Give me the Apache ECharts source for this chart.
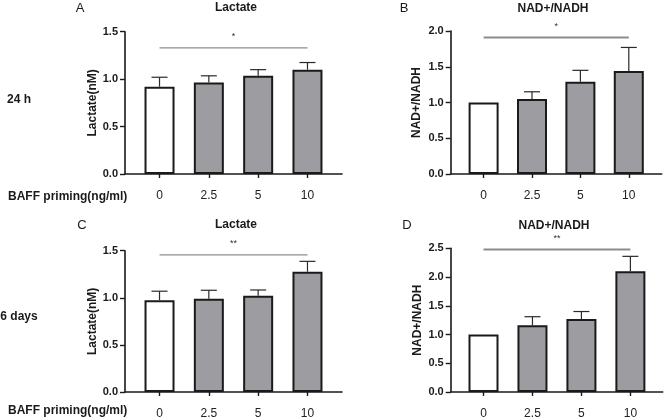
<!DOCTYPE html>
<html>
<head>
<meta charset="utf-8">
<script src="https://cdn.jsdelivr.net/npm/echarts@6/dist/echarts.min.js"></script>
<style>html,body{margin:0;padding:0;background:#fff;}#c{width:667px;height:420px;}</style>
</head>
<body>
<div id="c"></div>
<script>
// ---- data ----
const categories = ['0', '2.5', '5', '10'];
const xAxisTitle = 'BAFF priming(ng/ml)';
const rowLabels = ['24 h', '6 days'];
const panelLetters = ['A', 'B', 'C', 'D'];
const panelTitles = ['Lactate', 'NAD+/NADH', 'Lactate', 'NAD+/NADH'];
const yAxisTitles = ['Lactate(nM)', 'NAD+/NADH', 'Lactate(nM)', 'NAD+/NADH'];
const yMax = [1.5, 2.0, 1.5, 2.5];

const lactate24h = [0.92, 0.965, 1.035, 1.10];
const lactate24hErr = [0.10, 0.07, 0.065, 0.075];
const nad24h = [1.0, 1.05, 1.29, 1.44];
const nad24hErr = [0, 0.10, 0.16, 0.33];
const lactate6d = [0.975, 0.99, 1.023, 1.277];
const lactate6dErr = [0.095, 0.09, 0.06, 0.11];
const nad6d = [1.0, 1.16, 1.27, 2.10];
const nad6dErr = [0, 0.15, 0.13, 0.26];

// significance brackets: [fromIndex, toIndex, yValue]
const sigA = [0, 3, 1.33];
const sigB = [0, 3, 1.91];
const sigC = [0, 3, 1.455];
const sigD = [0, 3, 2.48];
const sigLabels = ['*', '*', '**', '**'];

const means = [lactate24h, nad24h, lactate6d, nad6d];
const errs = [lactate24hErr, nad24hErr, lactate6dErr, nad6dErr];
const sigs = [sigA, sigB, sigC, sigD];

// ---- layout ----
const grids = [
  {left: 125, top: 31.7, width: 217, height: 142.3},
  {left: 450.7, top: 31, width: 211, height: 143},
  {left: 125, top: 250.7, width: 217, height: 143.3},
  {left: 450.7, top: 248.3, width: 212, height: 145.2}
];
const xRange = [[-0.7, 3.7], [-0.68, 3.68], [-0.7, 3.7], [-0.67, 3.66]];
const nameGaps = [25, 28, 25, 27];
const FONT = '"Liberation Sans", Arial, sans-serif';
const NARROW = '"Liberation Sans Narrow", "Arial Narrow", "Liberation Sans", Arial, sans-serif';
const idx = categories.map((c, i) => i);

const xAxes = grids.map((g, k) => ({
  gridIndex: k, type: 'value', min: xRange[k][0], max: xRange[k][1],
  axisLine: {show: true, onZero: false, lineStyle: {color: '#1a1a1a', width: 1.6}},
  axisTick: {show: true, customValues: idx, length: 4, lineStyle: {color: '#1a1a1a', width: 1.4}},
  axisLabel: {show: true, customValues: idx, formatter: v => categories[Math.round(v)] ?? '',
    fontFamily: NARROW, fontSize: 12, color: '#222', margin: 16},
  splitLine: {show: false}
}));
const yAxes = grids.map((g, k) => ({
  gridIndex: k, type: 'value', min: 0, max: yMax[k], interval: 0.5,
  name: yAxisTitles[k], nameLocation: 'middle', nameGap: nameGaps[k], nameRotate: 90,
  nameTextStyle: {fontFamily: FONT, fontWeight: 'bold', fontSize: 12, color: '#1a1a1a'},
  axisLine: {show: true, onZero: false, lineStyle: {color: '#1a1a1a', width: 1.6}},
  axisTick: {show: true, length: 5, lineStyle: {color: '#1a1a1a', width: 1.4}},
  axisLabel: {formatter: v => v.toFixed(1), fontFamily: FONT, fontWeight: 'bold', fontSize: 11, color: '#1a1a1a', margin: 7},
  splitLine: {show: false}
}));

const series = [];
means.forEach((m, k) => {
  series.push({
    type: 'bar', xAxisIndex: k, yAxisIndex: k, barWidth: 30, z: 2,
    data: m.map((v, i) => [i, v]),
    itemStyle: {color: p => p.dataIndex === 0 ? '#ffffff' : '#9d9da1', borderColor: '#1a1a1a', borderWidth: 2},
    silent: true
  });
  series.push({
    type: 'custom', xAxisIndex: k, yAxisIndex: k, z: 1, clip: false,
    data: m.map((v, i) => [i, v, errs[k][i]]),
    renderItem: (params, api) => {
      const x = api.value(0), v = api.value(1), e = api.value(2);
      if (!e) return null;
      const p0 = api.coord([x, v]);
      const p1 = api.coord([x, v + e]);
      const st = {stroke: '#2a2a2a', lineWidth: 1.2};
      return {type: 'group', children: [
        {type: 'line', shape: {x1: p0[0], y1: p0[1], x2: p1[0], y2: p1[1]}, style: st},
        {type: 'line', shape: {x1: p1[0] - 8, y1: p1[1], x2: p1[0] + 8, y2: p1[1]}, style: st}
      ]};
    }
  });
  series.push({
    type: 'custom', xAxisIndex: k, yAxisIndex: k, z: 3, clip: false,
    data: [sigs[k]],
    renderItem: (params, api) => {
      const a = api.coord([api.value(0), api.value(2)]);
      const b = api.coord([api.value(1), api.value(2)]);
      return {type: 'group', children: [
        {type: 'line', shape: {x1: a[0], y1: a[1], x2: b[0], y2: b[1]},
          style: {stroke: '#8c8c8c', lineWidth: (k % 2) ? 2 : 1.2}},
        {type: 'text', x: (a[0] + b[0]) / 2, y: a[1] - 11,
          style: {text: sigLabels[k], textAlign: 'center', textVerticalAlign: 'middle',
            font: '9px ' + FONT, fill: '#333'}}
      ]};
    }
  });
});

const txt = (text, x, y, font, align) => ({
  type: 'text', x: x, y: y,
  style: {text: text, textAlign: align || 'center', textVerticalAlign: 'middle', font: font, fill: '#1a1a1a'}
});
const letterPos = [[80, 8], [404, 8], [82, 225], [407, 225.5]];
const titlePos = [[236, 8], [553, 9], [236, 225], [554, 225.5]];
const graphics = [];
panelLetters.forEach((l, k) => graphics.push(txt(l, letterPos[k][0], letterPos[k][1], '13px ' + FONT)));
panelTitles.forEach((t, k) => graphics.push(txt(t, titlePos[k][0], titlePos[k][1], 'bold 12px ' + FONT)));
graphics.push(txt(rowLabels[0], 19, 100, 'bold 12px ' + FONT));
graphics.push(txt(rowLabels[1], 19, 317, 'bold 12px ' + FONT));
graphics.push(txt(xAxisTitle, 8, 197, 'bold 12px ' + FONT, 'left'));
graphics.push(txt(xAxisTitle, 8, 411, 'bold 12px ' + FONT, 'left'));

const chart = echarts.init(document.getElementById('c'), null, {renderer: 'canvas'});
chart.setOption({
  animation: false,
  backgroundColor: '#ffffff',
  grid: grids,
  xAxis: xAxes,
  yAxis: yAxes,
  series: series,
  graphic: graphics
});
</script>
</body>
</html>
